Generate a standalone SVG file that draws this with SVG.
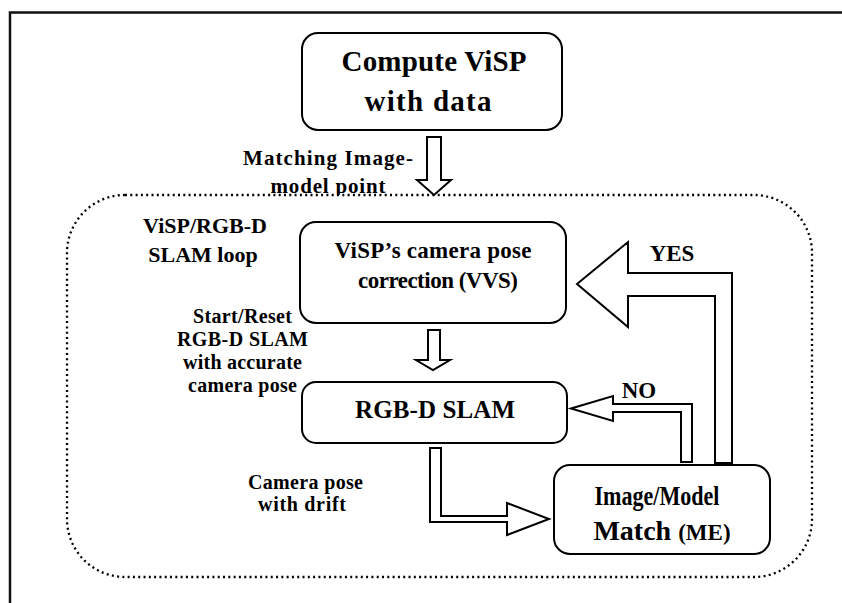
<svg xmlns="http://www.w3.org/2000/svg" width="842" height="603" viewBox="0 0 842 603">
<style>
  text { font-family: "Liberation Serif", "Times New Roman", serif; font-weight: bold; fill: #000; }
  .box { fill: #fff; stroke: #000; stroke-width: 2; }
  .arrow { fill: #fff; stroke: #000; stroke-width: 2; stroke-linejoin: miter; }
  .loop { fill: #fff; stroke: #000; stroke-width: 2.3; stroke-dasharray: 2 3.3; }
  .frame { fill: none; stroke: #111; stroke-width: 2.5; }
</style>
<rect x="0" y="0" width="842" height="603" fill="#fff"/>
<path class="frame" d="M10,603 L10,12.5 L842,12.5"/>

<g id="label-matching">
  <text x="328" y="165" font-size="21" text-anchor="middle" textLength="170">Matching Image-</text>
  <text x="328" y="193" font-size="21" text-anchor="middle" textLength="115">model point</text>
</g>

<g id="loop">
  <rect class="loop" x="67" y="195" width="745" height="382" rx="58" ry="58"/>
  <text x="205" y="233" font-size="22" text-anchor="middle">ViSP/RGB-D</text>
  <text x="203" y="261.5" font-size="22" text-anchor="middle">SLAM loop</text>
</g>

<g id="node-compute">
  <rect class="box" x="302" y="33" width="260" height="97" rx="16" ry="16"/>
  <text x="434" y="71" font-size="29" text-anchor="middle" textLength="185">Compute ViSP</text>
  <text x="428" y="111" font-size="29" text-anchor="middle" textLength="127">with data</text>
</g>

<g id="node-vvs">
  <rect class="box" x="300" y="222" width="266" height="101" rx="16" ry="16"/>
  <text x="433" y="258" font-size="23" text-anchor="middle" textLength="197">ViSP’s camera pose</text>
  <text x="438" y="288" font-size="23" text-anchor="middle" textLength="160">correction (VVS)</text>
</g>

<g id="node-rgbd">
  <rect class="box" x="302" y="382" width="265" height="61" rx="14" ry="14"/>
  <text x="435" y="418" font-size="25" text-anchor="middle" textLength="160">RGB-D SLAM</text>
</g>

<g id="node-match">
  <rect class="box" x="554" y="465" width="216" height="89" rx="16" ry="16"/>
  <text x="657" y="505" font-size="28" text-anchor="middle" textLength="125" lengthAdjust="spacingAndGlyphs">Image/Model</text>
  <text x="662" y="540" font-size="28" text-anchor="middle">Match <tspan font-size="23">(ME)</tspan></text>
</g>

<g id="connectors">
  <polygon class="arrow" points="427,137 441,137 441,180 451,180 434,195 417,180 427,180"/>
  <polygon class="arrow" points="428,330 440,330 440,360 450,360 433,370 416,360 428,360"/>
  <polygon class="arrow" points="577,284 628,242 628,273 732,273 732,463 715,463 715,296 628,296 628,327"/>
  <polygon class="arrow" points="571,408.5 613,396 613,404 692,404 692,462 681,462 681,412 613,412 613,421"/>
  <polygon class="arrow" points="430,448 441,448 441,516 507,516 507,503 549,519 507,535 507,522 430,522"/>
</g>

<g id="labels">
  <text x="242.5" y="323" font-size="20" text-anchor="middle" textLength="99">Start/Reset</text>
  <text x="242.5" y="346" font-size="20" text-anchor="middle" textLength="131">RGB-D SLAM</text>
  <text x="242.5" y="369" font-size="20" text-anchor="middle" textLength="119">with accurate</text>
  <text x="242.5" y="392" font-size="20" text-anchor="middle" textLength="109">camera pose</text>
  <text x="672" y="261" font-size="23" text-anchor="middle">YES</text>
  <text x="639" y="398" font-size="23" text-anchor="middle">NO</text>
  <text x="305.5" y="489" font-size="20" text-anchor="middle" textLength="115">Camera pose</text>
  <text x="302" y="511" font-size="20" text-anchor="middle" textLength="88">with drift</text>
</g>
</svg>
